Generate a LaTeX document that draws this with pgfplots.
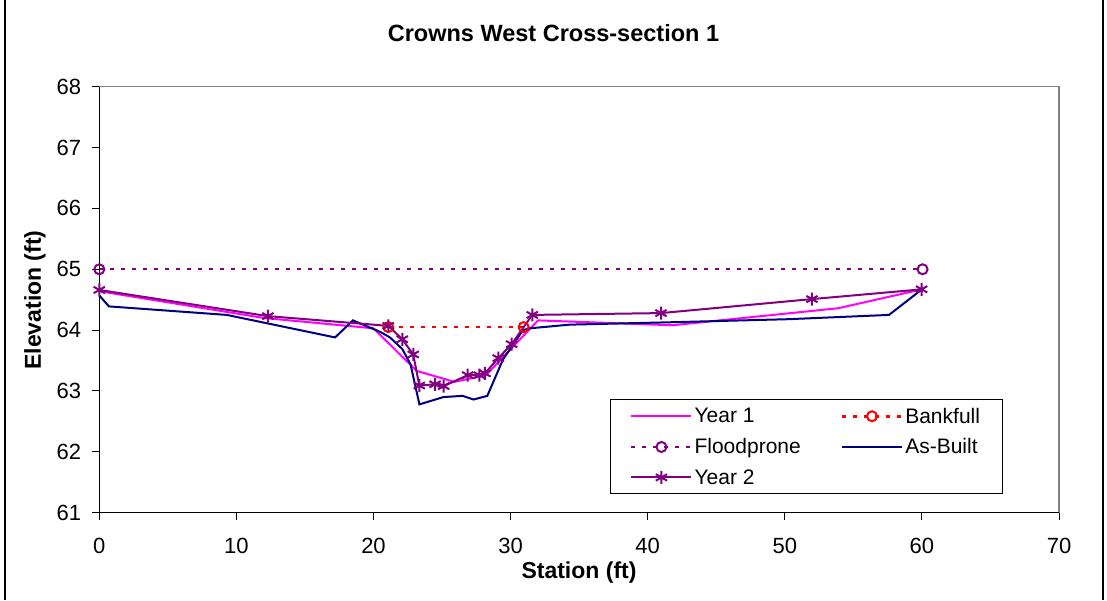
\documentclass[border=0pt]{standalone}
\usepackage{fontspec}
\setmainfont{Liberation Sans}
\usepackage{pgfplots}
\pgfplotsset{compat=1.18}
\definecolor{yone}{RGB}{255,0,255}
\definecolor{navyb}{RGB}{0,0,128}
\definecolor{purp}{RGB}{128,0,128}
\begin{document}
\begin{tikzpicture}[x=1pt,y=1pt]
\begin{axis}[
 width=959.7pt, height=426pt, scale only axis,
 xmin=0,xmax=70,ymin=61,ymax=68,
 xtick={0,10,...,70}, ytick={61,62,...,68},
 tick align=outside, xtick pos=bottom, ytick pos=left,
 major tick length=7pt,
 tick style={black, line width=1pt},
 axis line style={gray, line width=1.5pt},
 /pgf/number format/assume math mode=true,
 ticklabel style={font=\fontsize{22}{26}\selectfont},
 yticklabel style={inner sep=0pt, anchor=east, xshift=-11pt},
 xticklabel style={inner sep=0pt, anchor=north, yshift=-18.5pt},
 clip=false,
 legend columns=2,
 legend cell align=left,
 legend style={draw=black, line width=1pt, at={(0.532,0.0439)}, anchor=south west,
   font=\fontsize{21}{24}\selectfont, inner xsep=20pt, inner ysep=6pt,
   row sep=10pt,
   /tikz/every even column/.append style={column sep=38pt}},
 legend image code/.code={\draw[mark repeat=2,mark phase=2,#1] plot coordinates {(0pt,0pt) (30pt,0pt) (60pt,0pt)};},
]
\addplot[yone, line width=2pt, mark=none] coordinates {
(0,64.64) (12,64.2) (20.0,64.03) (23.15,63.33) (25.9,63.15) (28.2,63.26) (32.0,64.16) (41.8,64.08) (53.9,64.36) (60.0,64.67)};
\addlegendentry{Year 1}
\addplot[red, line width=2.5pt, dash pattern=on 4pt off 7pt, mark=o, mark size=5pt, mark options={solid, line width=2pt, fill=none}] coordinates {
(21.08,64.05) (30.95,64.05)};
\addlegendentry{Bankfull}
\addplot[purp, line width=2.2pt, dash pattern=on 4pt off 7pt, mark=o, mark size=5pt, mark options={solid, line width=2pt, fill=none}] coordinates {
(0,65.0) (60.05,65.0)};
\addlegendentry{Floodprone}
\addplot[navyb, line width=2pt, mark=none] coordinates {
(0,64.57) (0.7,64.39) (9.3,64.25) (17.2,63.88) (18.5,64.16) (20.5,63.97) (21.2,63.88) (22.1,63.69) (22.7,63.44) (23.35,62.78) (25.1,62.9) (26.5,62.92) (27.3,62.86) (28.3,62.92) (29.45,63.52) (30.9,64.0) (31.4,64.03) (34.3,64.09) (41.8,64.13) (50.3,64.18) (57.6,64.25) (60.0,64.67)};
\addlegendentry{As-Built}
\addplot[purp, line width=2pt, mark=asterisk, mark size=6.5pt, mark options={line width=2pt}] coordinates {
(0,64.66) (12.3,64.23) (21.08,64.07) (22.1,63.85) (22.9,63.6) (23.34,63.09) (24.49,63.11) (25.12,63.08) (26.87,63.26) (27.72,63.26) (28.13,63.29) (29.1,63.54) (30.08,63.77) (31.58,64.25) (40.97,64.28) (51.98,64.51) (59.98,64.67)};
\addlegendentry{Year 2}
\draw[black, line width=1.5pt] (rel axis cs:0,1) -- (rel axis cs:0,0) -- (rel axis cs:1,0);
\coordinate (LL) at (rel axis cs:0,0);
\end{axis}
\coordinate (O) at ([shift={(-99.3,-87.3)}]LL);
\pgfresetboundingbox
\path[use as bounding box] (O) rectangle ([shift={(1107,600)}]O);
\draw[black,line width=1.5pt] ([shift={(5,0)}]O) -- ([shift={(5,600)}]O);
\draw[black,line width=1.5pt] ([shift={(1103,0)}]O) -- ([shift={(1103,600)}]O);
\node[font=\fontsize{23.5}{26}\selectfont\bfseries] at ([shift={(553.5,567)}]O) {Crowns West Cross-section 1};
\node[font=\fontsize{23}{26}\selectfont\bfseries] at ([shift={(579,27)}]O) {Station (ft)};
\node[font=\fontsize{23}{26}\selectfont\bfseries,rotate=90] at ([shift={(35,300)}]O) {Elevation (ft)};
\end{tikzpicture}
\end{document}
